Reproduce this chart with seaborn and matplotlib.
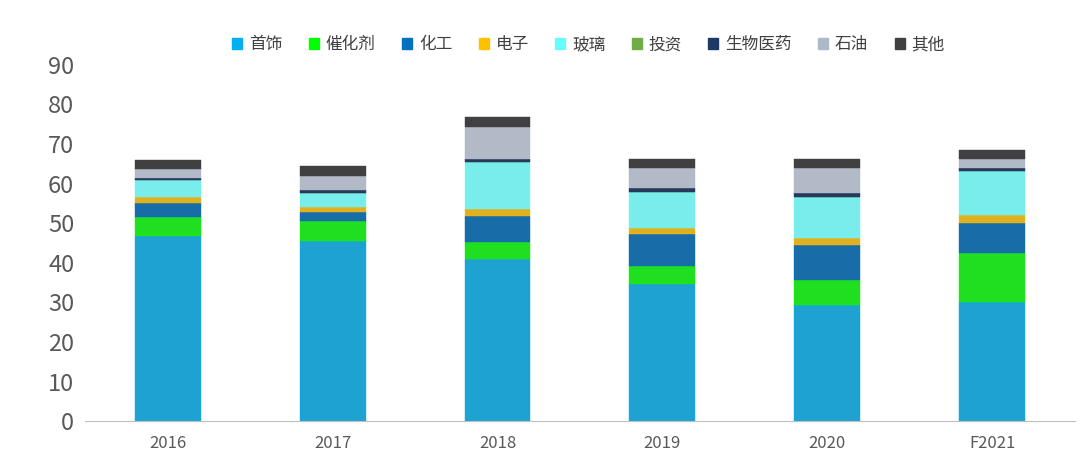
import matplotlib
matplotlib.use("Agg")
import matplotlib.pyplot as plt
import seaborn as sns
import numpy as np
from matplotlib.patches import Patch

years = ["2016", "2017", "2018", "2019", "2020", "F2021"]
series_names = ["首饰", "催化剂", "化工", "电子", "玻璃", "投资", "生物医药", "石油", "其他"]
jewelry   = [46.8, 45.5, 40.9, 34.7, 29.3, 30.0]
catalyst  = [4.7, 5.1, 4.4, 4.5, 6.3, 12.4]
chemical  = [3.7, 2.2, 6.6, 8.1, 9.0, 7.6]
electron  = [1.5, 1.4, 1.6, 1.6, 1.7, 2.0]
glass     = [4.2, 3.4, 11.9, 9.0, 10.3, 11.1]
invest    = [0.0, 0.0, 0.0, 0.0, 0.0, 0.0]
biomed    = [0.5, 0.7, 0.8, 1.0, 1.0, 0.9]
oil       = [2.3, 3.6, 8.0, 5.0, 6.4, 2.1]
other     = [2.3, 2.6, 2.7, 2.4, 2.2, 2.4]
data = [jewelry, catalyst, chemical, electron, glass, invest, biomed, oil, other]
colors = ["#00B0F0", "#00FF00", "#0070C0", "#FFC000", "#66FFFF", "#70AD47", "#203864", "#ADB9CA", "#404040"]

plt.rcParams["font.family"] = ["Noto Sans CJK SC", "DejaVu Sans"]
fig = plt.figure(figsize=(10.8, 4.7), dpi=100)
ax = fig.add_axes([0.079, 0.104, 0.916, 0.758])
bottom = np.zeros(len(years))
for vals, col in zip(data, colors):
    sns.barplot(x=years, y=vals, bottom=bottom, color=col, width=0.4, ax=ax,
                edgecolor=col, linewidth=0.3)
    bottom += np.array(vals)
ax.set_ylim(0, 90)
ax.set_yticks(range(0, 91, 10))
ax.set_xlim(-0.5, 5.5)
for s in ["top", "right", "left"]:
    ax.spines[s].set_visible(False)
ax.spines["bottom"].set_color("#BFBFBF")
ax.tick_params(axis="y", length=0, labelsize=17, labelcolor="#595959", pad=8)
ax.tick_params(axis="x", length=0, labelsize=12, labelcolor="#595959", pad=10)
handles = [Patch(color=c, label=n) for n, c in zip(series_names, colors)]
fig.legend(handles=handles, loc="center", bbox_to_anchor=(0.545, 0.905), ncol=9,
           frameon=False, fontsize=12, handlelength=0.6, handleheight=0.6,
           columnspacing=1.6, handletextpad=0.4, labelcolor="#404040")
fig.savefig("out.png", dpi=100)
